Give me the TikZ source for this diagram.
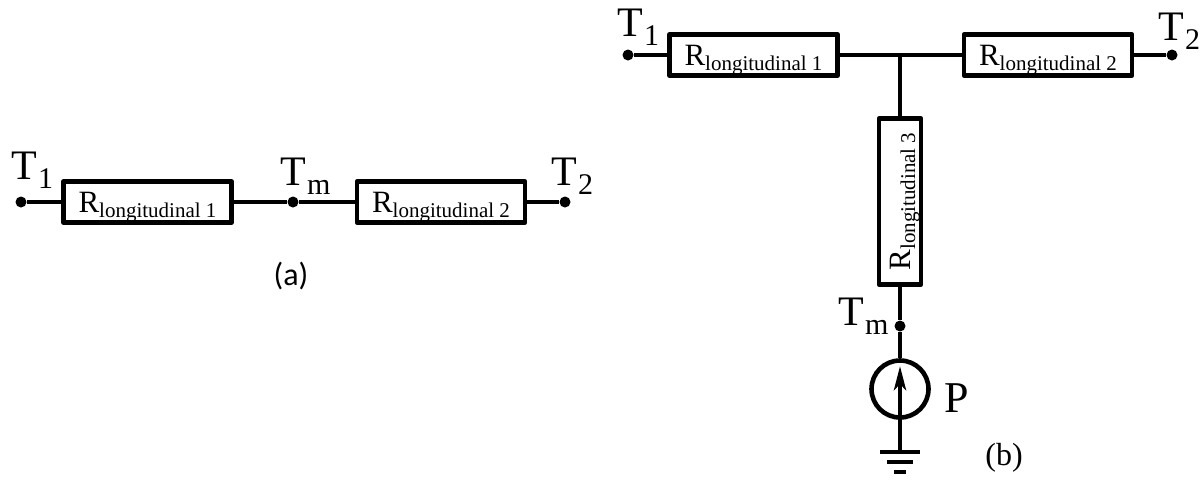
\documentclass[tikz,border=0pt]{standalone}
\usepackage{fontspec}
\setmainfont{Liberation Serif}
\newfontfamily\calfont{Carlito}
\usetikzlibrary{arrows.meta}
\newcommand\Tsub[1]{T\kern0.5pt\raisebox{-4.5pt}{\fontsize{15}{16}\selectfont #1}}
\newcommand\Rsub[1]{R\raisebox{-2.5pt}{\fontsize{10.5}{11}\selectfont longitudinal #1}}
\begin{document}
\begin{tikzpicture}[x=0.5pt,y=-0.5pt,
  wire/.style={line width=2.2pt},
  rbox/.style={draw, line width=2.4pt, rectangle, minimum width=84pt, minimum height=20.5pt,
    inner sep=0pt, line join=round, text height=10pt, text depth=0pt,
    font=\fontsize{15.5}{16}\selectfont},
  vbox/.style={rbox, rotate=90, minimum width=83pt, minimum height=21pt},
  term/.style={circle, fill, inner sep=0pt, minimum size=5.5pt},
  tlab/.style={anchor=base west, inner sep=0pt, font=\fontsize{21}{22}\selectfont},
  src/.style={circle, draw, line width=2.3pt, minimum size=28.5pt, inner sep=0pt}]
\useasboundingbox (0,0) rectangle (1204,484);
% ---------- (a)
\node[term] (a1) at (21,202) {};
\node[rbox] (ra1) at (147.5,202) {\Rsub{1}};
\node[term] (am) at (293,202) {};
\node[rbox] (ra2) at (441,202) {\Rsub{2}};
\node[term] (a2) at (565,202) {};
\draw[wire] (a1) -- (ra1) -- (am) -- (ra2) -- (a2);
\node[tlab] (la1) at (11,179) {\Tsub{1}};
\node[tlab] (lam) at (280,185) {\Tsub{m}};
\node[tlab] (la2) at (551,185) {\Tsub{2}};
\node[font=\calfont\fontsize{16}{17}\selectfont] (capa) at (291,276) {(a)};
% ---------- (b)
\node[term] (b1) at (628,55) {};
\node[rbox] (rb1) at (753.5,55) {\Rsub{1}};
\coordinate (j) at (900,55);
\node[rbox] (rb2) at (1048,55) {\Rsub{2}};
\node[term] (b2) at (1172,55) {};
\node[vbox] (rb3) at (900,201.5) {\Rsub{3}};
\node[term] (bm) at (900,326) {};
\node[src] (src) at (900,389) {};
\coordinate (gnd) at (900,452);
\coordinate (atip) at (900,366);
\draw[wire] (b1) -- (rb1) -- (j) -- (rb2) -- (b2);
\draw[wire] (j) -- (rb3);
\draw[wire] (rb3) -- (bm) -- (src);
\draw[wire] (src) -- (gnd);
\draw[wire,-{Stealth[length=12pt,width=6pt,inset=3pt]}] (src.south) -- (atip);
\draw[wire] (gnd) ++(-20,0) -- ++(40,0);
\draw[wire] (gnd) ++(-13,10) -- ++(26,0);
\draw[wire] (gnd) ++(-6,20) -- ++(12,0);
\node[tlab] (lb1) at (617,36) {\Tsub{1}};
\node[tlab] (lb2) at (1158,40) {\Tsub{2}};
\node[tlab] (lbm) at (838,325) {\Tsub{m}};
\node[anchor=base west, inner sep=0pt, font=\fontsize{22}{24}\selectfont] (lp) at (944,412) {P};
\node[font=\fontsize{16}{17}\selectfont] (capb) at (1004,458) {(b)};
\end{tikzpicture}
\end{document}
